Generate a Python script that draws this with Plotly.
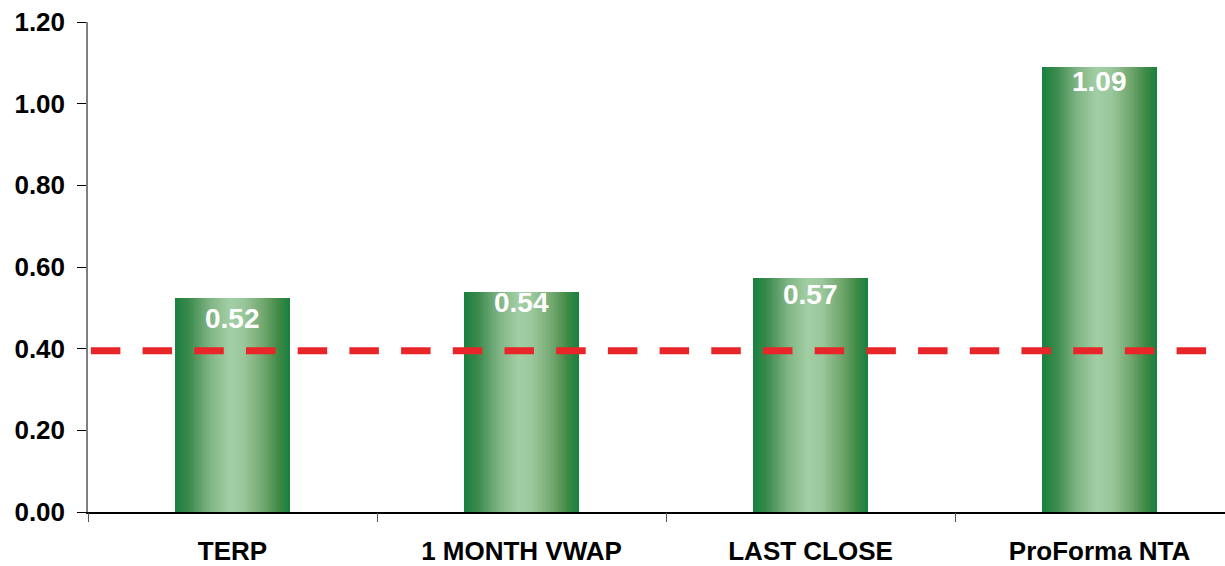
import plotly.graph_objects as go

categories = ["TERP", "1 MONTH VWAP", "LAST CLOSE", "ProForma NTA"]
values = [0.524, 0.539, 0.573, 1.09]
threshold = 0.395
y_ticks = [0.0, 0.2, 0.4, 0.6, 0.8, 1.0, 1.2]
label_shift = [-20, -11, -16, -15]

# horizontal gradient profile across the bar (position 0..1 -> colour)
grad_stops = [
    (0.00, (23, 128, 63)),
    (0.12, (58, 138, 76)),
    (0.30, (128, 180, 133)),
    (0.47, (162, 206, 163)),
    (0.60, (154, 199, 155)),
    (0.78, (111, 165, 108)),
    (0.90, (63, 138, 69)),
    (1.00, (23, 128, 63)),
]


def grad_color(t):
    for (p0, c0), (p1, c1) in zip(grad_stops, grad_stops[1:]):
        if p0 <= t <= p1:
            f = (t - p0) / (p1 - p0) if p1 > p0 else 0
            c = [round(a + (b - a) * f) for a, b in zip(c0, c1)]
            return "rgb(%d,%d,%d)" % tuple(c)
    return "rgb(%d,%d,%d)" % grad_stops[-1][1]


bar_w = 0.40
n_strips = 58
x_idx = list(range(len(categories)))

fig = go.Figure()
for i in range(n_strips):
    off = -bar_w / 2 + i * bar_w / n_strips
    fig.add_trace(go.Bar(
        x=x_idx, y=values,
        offset=off, width=bar_w / 2 - off,
        marker=dict(color=grad_color((i + 0.5) / n_strips), line=dict(width=0)),
        showlegend=False, hoverinfo="skip",
    ))

for xi, v, s in zip(x_idx, values, label_shift):
    fig.add_annotation(
        x=xi, y=v, text="%.2f" % v, showarrow=False,
        yanchor="middle", yshift=s,
        font=dict(family="Liberation Sans, Arial", size=28, color="white", weight="bold"),
    )

fig.add_shape(
    type="line", xref="x", yref="y",
    x0=-0.49, x1=3.44, y0=threshold, y1=threshold,
    line=dict(color="#e8262a", width=7, dash="29.5px,22.2px"),
)

fig.update_layout(
    width=1225, height=566,
    margin=dict(l=88, r=0, t=22, b=54),
    paper_bgcolor="white", plot_bgcolor="white",
    barmode="overlay", bargap=0,
    font=dict(family="Liberation Sans, Arial", color="black"),
)
fig.update_xaxes(
    type="linear", range=[-0.5, 3.434], automargin=False,
    tickmode="array", tickvals=x_idx, ticktext=categories,
    showgrid=False, zeroline=False,
    showline=True, linecolor="black", linewidth=1.5,
    ticks="", ticklabelstandoff=15,
    tickfont=dict(size=26, weight="bold", color="black"),
)
# boundary ticks on the x axis
fig.add_trace(go.Scatter(x=[], y=[], xaxis="x2", showlegend=False))
fig.update_layout(xaxis2=dict(
    overlaying="x", anchor="y", side="bottom", range=[-0.5, 3.434],
    automargin=False,
    tickmode="array", tickvals=[-0.5 + k for k in range(len(categories))],
    ticks="outside", ticklen=9, tickcolor="#555555", tickwidth=1,
    showticklabels=False, showgrid=False, zeroline=False, showline=False,
))
fig.update_yaxes(
    range=[0, 1.2], tickmode="array", tickvals=y_ticks, automargin=False,
    ticktext=["%.2f" % t for t in y_ticks],
    showgrid=False, zeroline=False,
    showline=True, linecolor="#808080", linewidth=1.5,
    ticks="outside", ticklen=9, tickcolor="black", tickwidth=1,
    ticklabelstandoff=7,
    tickfont=dict(size=26, weight="bold", color="black"),
)

fig.write_html("out.html")
